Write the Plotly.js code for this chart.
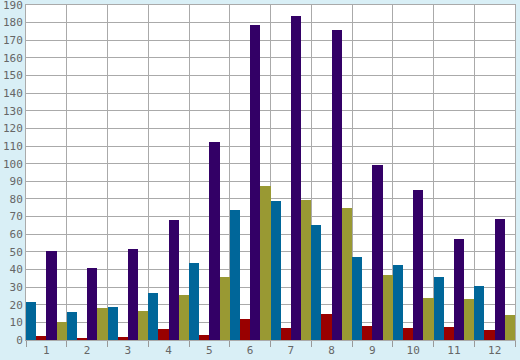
<!DOCTYPE html>
<html>
<head>
<meta charset="utf-8">
<script src="https://cdn.plot.ly/plotly-3.0.1.min.js"></script>
<style>html,body{margin:0;padding:0;background:#d9eff6;}</style>
</head>
<body>
<div id="chart" style="width:520px;height:360px;"></div>
<script>
const categories = ["1","2","3","4","5","6","7","8","9","10","11","12"];
const seriesBlue   = [21.5, 15.9, 18.7, 26.7, 43.7, 73.7, 78.8, 65.2, 47.1, 42.5, 35.7, 30.6];
const seriesRed    = [2.3, 1.1, 1.7, 6.2, 2.8, 11.9, 6.8, 14.7, 7.9, 6.8, 7.4, 5.7];
const seriesPurple = [50.5, 40.8, 51.6, 68.1, 112.3, 178.7, 183.8, 175.8, 99.3, 85.1, 57.3, 68.6];
const seriesOlive  = [10.2, 18.2, 16.4, 25.5, 35.7, 87.4, 79.4, 74.9, 36.9, 23.8, 23.3, 14.2];
const yTicks = [0,10,20,30,40,50,60,70,80,90,100,110,120,130,140,150,160,170,180,190];

const mk = (y, color, name) => ({
  type: 'bar', x: categories, y: y, name: name,
  marker: {color: color, line: {width: 0}},
  hoverinfo: 'x+y'
});

const data = [
  mk(seriesBlue, '#006699', 'A'),
  mk(seriesRed, '#990000', 'B'),
  mk(seriesPurple, '#330066', 'C'),
  mk(seriesOlive, '#999933', 'D')
];

const layout = {
  width: 520, height: 360,
  margin: {l: 26, r: 5, t: 5, b: 20, pad: 0},
  paper_bgcolor: '#d9eff6',
  plot_bgcolor: '#ffffff',
  showlegend: false,
  barmode: 'group',
  bargap: 0, bargroupgap: 0,
  font: {family: 'DejaVu Sans Mono', size: 11, color: '#666666'},
  xaxis: {
    type: 'category',
    tickson: 'boundaries',
    ticks: 'outside', ticklen: 6, tickcolor: '#999999', tickwidth: 1,
    showgrid: true, gridcolor: '#aaaaaa', gridwidth: 1,
    showline: true, linecolor: '#aaaaaa', linewidth: 1, mirror: true,
    tickfont: {family: 'DejaVu Sans Mono', size: 11, color: '#666666'},
    fixedrange: true
  },
  yaxis: {
    range: [0, 190],
    tickvals: yTicks,
    ticktext: yTicks.map(String),
    ticks: '',
    ticklabeloverflow: 'allow',
    showgrid: true, gridcolor: '#aaaaaa', gridwidth: 1,
    zeroline: false,
    showline: true, linecolor: '#aaaaaa', linewidth: 1, mirror: true,
    tickfont: {family: 'DejaVu Sans Mono', size: 11, color: '#666666'},
    fixedrange: true
  }
};

Plotly.newPlot('chart', data, layout, {displayModeBar: false, staticPlot: true});
</script>
</body>
</html>
